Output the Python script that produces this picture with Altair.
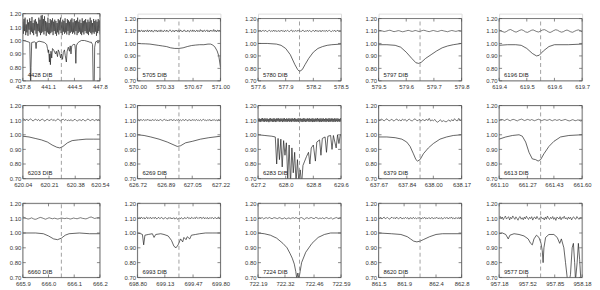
import altair as alt
import numpy as np
import pandas as pd

FONT = "Liberation Sans"
TXT = "#333333"

names = ["4428 DIB", "5705 DIB", "5780 DIB", "5797 DIB", "6196 DIB",
         "6203 DIB", "6269 DIB", "6283 DIB", "6379 DIB", "6613 DIB",
         "6660 DIB", "6993 DIB", "7224 DIB", "8620 DIB", "9577 DIB"]

x_ticks = [
    [437.8, 441.1, 444.5, 447.8],
    [570.00, 570.33, 570.67, 571.00],
    [577.6, 577.9, 578.2, 578.5],
    [579.5, 579.6, 579.7, 579.8],
    [619.4, 619.5, 619.6, 619.7],
    [620.04, 620.21, 620.38, 620.54],
    [626.72, 626.89, 627.05, 627.22],
    [627.2, 628.0, 628.8, 629.6],
    [637.67, 637.84, 638.00, 638.17],
    [661.10, 661.27, 661.43, 661.60],
    [665.9, 666.0, 666.1, 666.2],
    [698.80, 699.13, 699.47, 699.80],
    [722.19, 722.32, 722.46, 722.59],
    [861.5, 861.9, 862.4, 862.8],
    [957.18, 957.52, 957.85, 958.18],
]
x_formats = [".1f", ".2f", ".1f", ".1f", ".1f", ".2f", ".2f", ".1f",
             ".2f", ".2f", ".1f", ".2f", ".2f", ".1f", ".2f"]
dib_centers = [442.8, 570.5, 578.05, 579.65, 619.55, 620.29, 626.97, 628.4,
               637.92, 661.35, 666.05, 699.30, 722.39, 862.15, 957.68]
y_ticks = [0.70, 0.80, 0.90, 1.00, 1.10, 1.20]

# DIB profiles (wavelength nm, normalised flux)
prof_wl = [
    [437.8, 438.2, 438.5, 438.7, 438.78, 438.82, 438.86, 438.95, 439.3, 439.45, 439.52, 439.58,
     439.9, 440.3, 440.6, 440.9, 441.0, 441.1, 441.15, 441.25, 441.3, 441.38, 441.45, 441.55,
     441.65, 441.8, 441.95, 442.05, 442.15, 442.3, 442.4, 442.55, 442.7, 442.8, 442.95, 443.05,
     443.2, 443.3, 443.45, 443.55, 443.7, 443.85, 443.95, 444.05, 444.15, 444.35, 444.55, 444.62,
     444.68, 444.75, 444.9, 445.1, 445.4, 445.8, 446.1, 446.4, 446.55, 446.65, 446.85, 446.95,
     447.05, 447.12, 447.25, 447.45, 447.55, 447.65, 447.8],
    [570.0, 570.05, 570.1, 570.15, 570.2, 570.25, 570.3, 570.35, 570.4, 570.45, 570.5, 570.55,
     570.6, 570.65, 570.7, 570.75, 570.8, 570.85, 570.88, 570.9, 570.93, 570.96, 570.98, 571.0],
    [577.6, 577.7, 577.8, 577.85, 577.9, 577.95, 578.0, 578.03, 578.05, 578.08, 578.11, 578.15,
     578.2, 578.25, 578.3, 578.35, 578.4, 578.5],
    [579.50, 579.53, 579.56, 579.58, 579.60, 579.62, 579.635, 579.645, 579.655, 579.67, 579.69,
     579.71, 579.73, 579.75, 579.77, 579.80],
    [619.40, 619.43, 619.46, 619.48, 619.50, 619.52, 619.535, 619.545, 619.56, 619.58, 619.60,
     619.65, 619.70],
    [620.04, 620.08, 620.12, 620.16, 620.20, 620.23, 620.26, 620.28, 620.30, 620.33, 620.36,
     620.40, 620.45, 620.50, 620.54],
    [626.72, 626.76, 626.80, 626.85, 626.90, 626.94, 626.96, 626.98, 627.01, 627.05, 627.10,
     627.15, 627.22],
    [627.20, 627.40, 627.60, 627.70, 627.74, 627.78, 627.82, 627.86, 627.90, 627.94, 627.98,
     628.02, 628.06, 628.10, 628.14, 628.18, 628.22, 628.26, 628.30, 628.34, 628.38, 628.42,
     628.46, 628.50, 628.55, 628.60, 628.66, 628.70, 628.74, 628.80, 628.86, 628.90, 628.98,
     629.02, 629.06, 629.14, 629.18, 629.22, 629.30, 629.34, 629.38, 629.46, 629.50, 629.54,
     629.58, 629.60],
    [637.67, 637.72, 637.77, 637.81, 637.84, 637.86, 637.88, 637.895, 637.905, 637.92, 637.94,
     637.97, 638.00, 638.04, 638.08, 638.12, 638.17],
    [661.10, 661.14, 661.18, 661.22, 661.24, 661.26, 661.28, 661.30, 661.32, 661.335, 661.35,
     661.37, 661.40, 661.43, 661.47, 661.52, 661.60],
    [665.90, 665.95, 665.98, 666.00, 666.02, 666.035, 666.05, 666.065, 666.08, 666.12, 666.16,
     666.20],
    [698.80, 698.84, 698.86, 698.875, 698.89, 698.93, 698.98, 699.00, 699.02, 699.08, 699.12,
     699.17, 699.21, 699.24, 699.265, 699.29, 699.32, 699.345, 699.36, 699.385, 699.40, 699.43,
     699.45, 699.50, 699.55, 699.62, 699.70, 699.80],
    [722.19, 722.22, 722.25, 722.28, 722.31, 722.33, 722.345, 722.355, 722.365, 722.372,
     722.377, 722.382, 722.387, 722.393, 722.40, 722.42, 722.45, 722.48, 722.51, 722.54, 722.59],
    [861.5, 861.7, 861.85, 861.95, 862.0, 862.05, 862.1, 862.15, 862.2, 862.3, 862.4, 862.5,
     862.65, 862.8],
    [957.18, 957.22, 957.26, 957.29, 957.31, 957.36, 957.42, 957.48, 957.53, 957.56, 957.58,
     957.60, 957.63, 957.66, 957.685, 957.70, 957.71, 957.72, 957.74, 957.78, 957.84, 957.88,
     957.91, 957.93, 957.96, 957.98, 958.00, 958.02, 958.04, 958.06, 958.075, 958.09, 958.10,
     958.12, 958.135, 958.15, 958.165, 958.18],
]
prof_flux = [
    [1.000, 0.995, 0.990, 0.985, 0.75, 0.60, 0.80, 0.985, 0.990, 0.985, 0.94, 0.985,
     0.995, 0.990, 0.985, 0.970, 0.94, 0.91, 0.93, 0.84, 0.90, 0.82, 0.92, 0.87,
     0.94, 0.93, 0.91, 0.90, 0.92, 0.88, 0.93, 0.91, 0.87, 0.90, 0.86, 0.91,
     0.93, 0.89, 0.84, 0.92, 0.95, 0.92, 0.96, 0.90, 0.96, 0.97, 0.97, 0.93,
     0.83, 0.96, 0.98, 0.99, 1.00, 1.00, 0.995, 0.99, 0.985, 0.99, 0.97, 0.60,
     0.60, 0.95, 0.99, 0.995, 0.98, 0.995, 0.99],
    [1.000, 0.998, 0.997, 0.995, 0.990, 0.985, 0.980, 0.975, 0.965, 0.960, 0.960, 0.965,
     0.975, 0.983, 0.987, 0.990, 0.990, 0.995, 0.995, 0.990, 0.975, 0.940, 0.900, 0.810],
    [1.000, 1.000, 0.995, 0.985, 0.960, 0.910, 0.830, 0.790, 0.775, 0.790, 0.830, 0.880,
     0.930, 0.960, 0.975, 0.985, 0.990, 0.995],
    [0.990, 0.990, 0.985, 0.970, 0.930, 0.880, 0.845, 0.840, 0.850, 0.880, 0.910,
     0.940, 0.965, 0.980, 0.990, 1.000],
    [0.985, 0.990, 0.990, 0.985, 0.960, 0.920, 0.900, 0.905, 0.940, 0.975, 0.990,
     0.990, 0.995],
    [0.990, 0.985, 0.975, 0.965, 0.950, 0.930, 0.915, 0.910, 0.920, 0.945, 0.960,
     0.965, 0.970, 0.970, 0.970],
    [1.000, 0.995, 0.985, 0.970, 0.950, 0.930, 0.920, 0.925, 0.945, 0.955, 0.970,
     0.980, 0.990],
    [1.000, 0.995, 0.990, 0.985, 0.80, 0.975, 0.83, 0.970, 0.78, 0.960, 0.86,
     0.945, 0.70, 0.930, 0.66, 0.910, 0.74, 0.880, 0.67, 0.830, 0.68, 0.760,
     0.66, 0.790, 0.820, 0.850, 0.880, 0.80, 0.910, 0.930, 0.82, 0.950, 0.965,
     0.86, 0.975, 0.985, 0.88, 0.990, 0.995, 0.90, 0.995, 0.91, 1.000, 0.94,
     1.000, 1.000],
    [0.985, 0.985, 0.980, 0.970, 0.950, 0.920, 0.870, 0.830, 0.820, 0.830, 0.870,
     0.910, 0.940, 0.970, 0.985, 0.995, 1.000],
    [0.970, 0.985, 0.995, 1.000, 0.990, 0.950, 0.880, 0.835, 0.830, 0.820, 0.830,
     0.870, 0.920, 0.955, 0.985, 0.995, 1.000],
    [1.000, 1.000, 0.995, 0.980, 0.960, 0.955, 0.965, 0.985, 0.995, 1.000, 0.995,
     0.995],
    [1.000, 0.995, 0.990, 0.920, 0.985, 0.990, 0.995, 0.970, 0.990, 0.995, 0.990,
     0.980, 0.950, 0.910, 0.900, 0.920, 0.960, 0.940, 0.970, 0.955, 0.975, 0.960,
     0.985, 0.990, 0.995, 1.000, 1.000, 1.000],
    [1.000, 0.995, 0.985, 0.965, 0.930, 0.900, 0.860, 0.830, 0.790, 0.740,
     0.690, 0.730, 0.690, 0.740, 0.800, 0.870, 0.930, 0.970, 0.990, 1.000, 1.000],
    [1.000, 0.995, 0.990, 0.975, 0.960, 0.945, 0.940, 0.945, 0.955, 0.975, 0.990, 0.995,
     0.995, 0.995],
    [0.995, 1.000, 0.990, 0.960, 0.985, 0.995, 0.990, 0.980, 0.960, 0.930, 0.920,
     0.960, 0.985, 0.970, 0.930, 0.880, 0.800, 0.900, 0.970, 0.990, 0.990, 0.970,
     0.930, 0.960, 0.900, 0.800, 0.700, 0.660, 0.720, 0.900, 0.930, 0.800, 0.680,
     0.800, 0.930, 0.820, 0.680, 0.700],
]

# Upper spectra: deviations from 1.10 in units of 0.001, evenly spread over each panel
noise = [
    "40 -50 60 -30 70 -60 20 -40 55 -65 35 -20 65 -55 45 -35 75 -45 30 -60 50 -25 60 -50 40 -70 "
    "25 -30 70 -40 55 -60 85 -45 90 -35 60 -55 80 -30 45 -65 35 -40 70 -50 30 -55 60 -45 50 -35 "
    "65 -60 40 -30 55 -50 45 -65 30 -40 60 -55 50 -25 70 -45 35 -60 55 -35 45 -50 65 -40 30 -55 "
    "60 -30 50 -60 40 -45 55 -35 65 -50 35 -40 60 -55 45 -30 50 -60 70 -45 40 -35 55 -50 30 -60 "
    "65 -40 45 -55 50 -30 60 -45 35 -50 55 -60 40 -35 70 -45 50 -55 30 -40 60 -50 45 -35 55 -65 "
    "40 -45 60 -30 50 -55",
    "5 -3 8 -6 2 7 -5 4 -8 6 1 -4 9 -7 3 5 -6 8 -2 -9 4 7 -3 6 -8 2 5 -6 9 -4 1 -7 6 3 -5 8 -3 -6 "
    "4 10 -2 -7 5 3 -8 6 -1 7 -5 4 -6 9 -3 2 -7 5 8 -4 1 -6 7 -2 -8 6 4 -5 9 -3 5 -7 2 8 -6 3 -4 "
    "11 -2 6 -8 4 7 -5 2 9 -6 3 -7 8 -1 5 -4 12 -3 6 -8 4 7 -2 5 -6",
    "4 -3 6 -5 2 5 -4 7 -2 -6 3 6 -5 2 -3 8 -4 5 -6 3 1 -5 7 -2 4 -7 5 -3 6 -1 -5 4 8 -6 2 -3 5 "
    "-4 7 -2 3 -6 4 6 -5 1 -3 7 -4 5 -2 -6 4 3 -5 8 -3 2 -4 6 -7 5 -1 3 -5 7 -4 2 6 -3 -5 4 -2 7 "
    "-6 3 5 -4 2 -3",
    "3 5 2 -1 -4 -2 1 4 6 3 -2 -5 -3 0 3 1 -3 -6 -4 -1 2 5 3 -1 -3 0 4 2 -2 -4 -1 3 6 4 0 -3 -5 "
    "-2 2 4 1 -2 -4 -1 3 5 2 -1 -3 -6 -2 1 4 2 -1 -3 0 3 1 -2",
    "8 2 -6 -10 -3 7 12 5 -4 -9 -2 6 10 3 -7 -11 -4 5 9 2 -5 -8 0 8 11 4 -6 -12 -5 4 10 6 -3 -9 "
    "-6 3 8 1 -7 -10 -2 5 9 3 -6",
    "10 6 -2 8 -4 3 9 -1 -6 4 7 -3 5 -5 2 8 -2 -7 3 6 -4 1 7 -3 4 -6 2 9 -1 -5 3 6 -2 5 -4 1 -3 "
    "4 -7 2 6 -3 -5 3 1 -4 7 -2 -6 4 8 -1 -3 5 2 -5 6 -2 3 -4",
    "-3 2 -5 4 1 -2 5 -4 3 -1 6 -3 2 -5 4 0 -2 5 -3 3 -6 2 4 -1 -4 3 5 -2 1 -5 3 -2 6 -3 0 4 -4 "
    "2 -1 5 -3 2 -5 4 1 -3 6 -2 -4 3 2 -5 4 -1 3 -4 5 -2 1 -3 4 -5 2 6 -3 1 -4 3 -2 5 -6 2 -1 4 "
    "-3 2 -5 3 -2 6",
    "10 -9 12 -11 8 -13 11 -7 14 -10 9 -12 13 -8 10 -11 12 -9 7 -14 11 -10 13 -8 9 -12 10 -11 14 "
    "-9 8 -13 12 -10 11 -7 13 -12 9 -10 12 -8 10 -13 11 -9 14 -11 8 -10 12 -12 9 -8 13 -11 10 -9 "
    "11 -13 12 -7 9 -12 14 -10 10 -11 8 -9 13 -12 11 -8 12 -10 9 -13 10 -11 14 -9 11 -12 8 -10 13 "
    "-8 10 -12 12 -11 9 -9 11 -13 13 -10 8 -12 12 -9 10 -11 14 -8 9 -13 11 -10 12 -12 10 -9 13 "
    "-11 8 -10 12 -13 11 -8 9 -12 14 -10 10 -11 12 -9 11 -13 9 -10 13 -12 10 -8 12 -11 11 -9 8 "
    "-12 13 -10",
    "5 -3 8 2 -6 4 9 -2 -5 6 1 -7 3 8 -4 2 -6 7 -1 5 -8 3 6 -3 -5 4 9 -2 -4 6 -7 3 1 -5 8 -3 12 "
    "-6 2 -4 5 -9 -14 -6 3 -11 -3 -8 -12 -5 2 -9 4 -6 10 -2 -5 12 -3 6",
    "-2 3 5 1 -3 4 6 -1 -4 2 5 3 -2 -5 1 4 7 2 -3 0 5 3 -2 4 1 -4 -1 3 6 2 -3 -1 4 2 -2 1 5 -1 "
    "-4 2 3 -2 1 4 -3 -1 2 5 1 -3 -5 -2 3 1 -4 -2 2 -1 -6 -3",
    "8 4 -2 -6 -3 2 -4 -8 -5 1 5 2 -3 -7 -2 3 -1 -4 0 -3 -6 -2 1 -1 -3 0 -2 -6 -3 1 -2 -4 0 3 "
    "-1 -3 -5 -1 5 8 3 -2 1 4 2",
    "6 -2 4 -5 7 1 -3 5 -6 2 8 -4 3 -1 6 -5 2 4 -3 7 -2 -5 3 5 -4 1 6 -3 -6 2 4 -1 -7 3 -2 5 -5 "
    "1 -3 4 -6 -2 3 -8 -3 2 -5 4 -2 -6 1 5 -4 3 7 -3 2 -5 6 1 -2 4 -4 8 3 -3 5 -1 7 -4 2 6 -5 3 "
    "-2 5 -6 1 4 -3 6 -1 -4 5 2 -5 3 7 -2 4",
    "-3 2 -1 4 -5 1 3 -2 5 0 -4 2 3 -1 -3 4 1 -5 -2 3 -6 -1 2 -4 1 3 -2 5 -1 -3 2 4 -2 -8 1 3 "
    "-3 2 4 -1 -3 5 2 -4 1 -2 3 -5 2 4 -3 -1 3 -6 -2 2 4 -3 1 3",
    "4 -2 5 -6 2 7 -4 1 5 -3 -7 3 6 -2 4 -5 8 -1 -4 3 5 -6 2 -3 6 -2 4 -7 3 1 -4 6 -3 2 -5 4 -1 "
    "5 -6 3 -2 7 -4 1 -3 5 -5 2 4 -6 3 -1 6 -4 2 -3 5 -7 1 4 -2 6 -5 3 -1 8 -4 2 -6 5 -3 4 -2 6 -5",
    "5 12 -3 8 -10 4 14 -6 2 10 -12 6 -4 15 3 -8 9 -2 -14 5 11 -7 3 -11 8 -5 13 1 -9 6 -3 10 "
    "-13 4 7 -6 12 -1 -10 5 9 -4 2 -12 8 -7 14 0 -9 6 -3 11 -8 4 -15 7 2 -6 10 -11 5 -2 13 -5 3 "
    "-9 8 -4 6 -12 4 9 -3 -7 11 1 -8 5 -2 7",
]

COL_W = [78, 84, 84, 84, 84]
ROW_H = [68, 74, 75]
TOP_GAP = 5  # row-1 panels 2-5 start a little lower than panel 1

INK = "#222222"
FRAME = "#555555"


def panel(i):
    row, col = divmod(i, 5)
    w, h = COL_W[col], ROW_H[row]
    lo, hi = x_ticks[i][0], x_ticks[i][-1]
    ytop = 1.2
    if row == 0 and col > 0:
        ytop = 1.2 + 0.5 * TOP_GAP / (h - TOP_GAP)
    xs = alt.Scale(domain=[lo, hi], nice=False, zero=False)
    ys = alt.Scale(domain=[0.7, ytop], nice=False, zero=False)

    xaxis = alt.Axis(values=x_ticks[i], format=x_formats[i], ticks=False, grid=False,
                     domain=False, labelFlush=False, labelOverlap=False, labelPadding=3,
                     labelFont=FONT, labelFontSize=6, labelColor=TXT, title=None)
    yaxis = alt.Axis(values=y_ticks, format=".2f", ticks=False, grid=False, domain=False,
                     labelOverlap=False, labelPadding=2, labelFont=FONT, labelFontSize=6,
                     labelColor=TXT, title=None)

    def X(f):
        return alt.X(f, type="quantitative", scale=xs, axis=xaxis)

    def Y(f):
        return alt.Y(f, type="quantitative", scale=ys, axis=yaxis)

    vals = [1.10 + int(t) / 1000.0 for t in noise[i].split()]
    dfn = pd.DataFrame({"x": np.linspace(lo, hi, len(vals)), "y": vals})
    dfp = pd.DataFrame({"x": prof_wl[i], "y": prof_flux[i]})

    noise_line = alt.Chart(dfn).mark_line(color=INK, strokeWidth=0.6, clip=True).encode(
        x=X("x"), y=Y("y"))
    prof_line = alt.Chart(dfp).mark_line(color=INK, strokeWidth=0.7, clip=True).encode(
        x=X("x"), y=Y("y"))

    cdf = pd.DataFrame({"x": [dib_centers[i]], "y": [0.7], "y2": [1.2]})
    center = alt.Chart(cdf).mark_rule(color="#777777", strokeWidth=0.7,
                                      strokeDash=[4, 3]).encode(
        x=X("x"), y=Y("y"), y2="y2")

    bdf = pd.DataFrame({"x": [lo, hi, lo, lo], "x2": [lo, hi, hi, hi],
                        "y": [0.7, 0.7, 0.7, 1.2], "y2": [1.2, 1.2, 0.7, 1.2]})
    box = alt.Chart(bdf).mark_rule(color=FRAME, strokeWidth=0.8).encode(
        x=X("x"), x2="x2", y=Y("y"), y2="y2")

    xt = pd.DataFrame({"x": x_ticks[i], "b": 0.7, "t": 1.2})
    yt = pd.DataFrame({"y": y_ticks, "l": lo, "r": hi})
    tick_b = alt.Chart(xt).mark_rule(color=FRAME, strokeWidth=0.7, y2Offset=-3).encode(
        x=X("x"), y=Y("b"), y2="b")
    tick_t = alt.Chart(xt).mark_rule(color=FRAME, strokeWidth=0.7, y2Offset=3).encode(
        x=X("x"), y=Y("t"), y2="t")
    tick_l = alt.Chart(yt).mark_rule(color=FRAME, strokeWidth=0.7, x2Offset=3).encode(
        y=Y("y"), x=X("l"), x2="l")
    tick_r = alt.Chart(yt).mark_rule(color=FRAME, strokeWidth=0.7, x2Offset=-3).encode(
        y=Y("y"), x=X("r"), x2="r")

    ldf = pd.DataFrame({"t": [names[i]], "x": [lo], "y": [0.7]})
    label = alt.Chart(ldf).mark_text(align="left", baseline="bottom", dx=5, dy=-3,
                                     font=FONT, fontSize=6, color=INK).encode(
        x=X("x"), y=Y("y"), text="t:N")

    return alt.layer(noise_line, prof_line, center, box, tick_b, tick_t, tick_l, tick_r,
                     label).properties(width=w, height=h)


charts = [panel(i) for i in range(15)]

chart = alt.concat(*charts, columns=5, spacing={"row": 25, "column": 38},
                   bounds="flush", align="each").properties(padding=0).configure_view(
    stroke="transparent").configure(background="white")

chart.save("out.html", embed_options={"renderer": "svg", "actions": False})
